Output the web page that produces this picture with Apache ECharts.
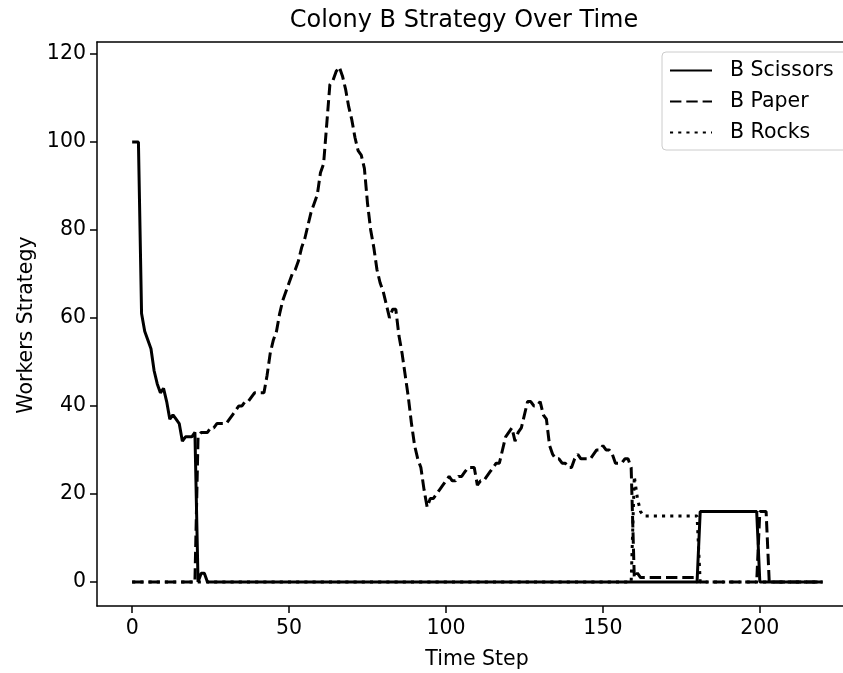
<!DOCTYPE html>
<html>
<head>
<meta charset="utf-8">
<script src="https://cdn.jsdelivr.net/npm/echarts@6/dist/echarts.min.js"></script>
<style>html,body{margin:0;padding:0;background:#fff;}#c{width:843px;height:673px;}</style>
</head>
<body>
<div id="c"></div>
<script>
// Time steps 0..220
const timeSteps = Array.from({length: 221}, (_, i) => i);

const xTicks = [0, 50, 100, 150, 200];
const yTicks = [0, 20, 40, 60, 80, 100, 120];

const scissors = [
  100,100,100,61,57,55,53,48,45,43,
  44,41,37,38,37,36,32,33,33,33,
  34,0,2,2,0,0,0,0,0,0,
  0,0,0,0,0,0,0,0,0,0,
  0,0,0,0,0,0,0,0,0,0,
  0,0,0,0,0,0,0,0,0,0,
  0,0,0,0,0,0,0,0,0,0,
  0,0,0,0,0,0,0,0,0,0,
  0,0,0,0,0,0,0,0,0,0,
  0,0,0,0,0,0,0,0,0,0,
  0,0,0,0,0,0,0,0,0,0,
  0,0,0,0,0,0,0,0,0,0,
  0,0,0,0,0,0,0,0,0,0,
  0,0,0,0,0,0,0,0,0,0,
  0,0,0,0,0,0,0,0,0,0,
  0,0,0,0,0,0,0,0,0,0,
  0,0,0,0,0,0,0,0,0,0,
  0,0,0,0,0,0,0,0,0,0,
  0,16,16,16,16,16,16,16,16,16,
  16,16,16,16,16,16,16,16,16,16,
  0,0,0,0,0,0,0,0,0,0,
  0,0,0,0,0,0,0,0,0,0,
  0
];

const paper = [
  0,0,0,0,0,0,0,0,0,0,
  0,0,0,0,0,0,0,0,0,0,
  0,33,34,34,34,35,35,36,36,36,
  36,37,38,39,40,40,41,41,42,43,
  43,43,43,47,52,55,57,61,64,66,
  68,70,71,73,76,78,81,84,86,88,
  93,95,104,113,114,116,117,115,112,108,
  105,101,98,97,94,86,80,76,71,68,
  66,63,60,62,62,56,52,47,42,36,
  31,28,26,21,17,19,19,20,21,22,
  23,24,23,23,24,24,25,26,26,26,
  22,23,23,24,25,26,27,27,30,33,
  34,35,32,34,35,38,41,41,40,40,
  41,38,37,31,29,28,28,27,27,26,
  26,28,29,28,28,28,28,29,30,30,
  31,30,30,29,27,27,27,28,28,26,
  1,2,1,1,1,1,1,1,1,1,
  1,1,1,1,1,1,1,1,1,1,
  0,0,0,0,0,0,0,0,0,0,
  0,0,0,0,0,0,0,0,0,0,
  16,16,16,0,0,0,0,0,0,0,
  0,0,0,0,0,0,0,0,0,0,
  0
];

const rocks = [
  0,0,0,0,0,0,0,0,0,0,
  0,0,0,0,0,0,0,0,0,0,
  0,0,0,0,0,0,0,0,0,0,
  0,0,0,0,0,0,0,0,0,0,
  0,0,0,0,0,0,0,0,0,0,
  0,0,0,0,0,0,0,0,0,0,
  0,0,0,0,0,0,0,0,0,0,
  0,0,0,0,0,0,0,0,0,0,
  0,0,0,0,0,0,0,0,0,0,
  0,0,0,0,0,0,0,0,0,0,
  0,0,0,0,0,0,0,0,0,0,
  0,0,0,0,0,0,0,0,0,0,
  0,0,0,0,0,0,0,0,0,0,
  0,0,0,0,0,0,0,0,0,0,
  0,0,0,0,0,0,0,0,0,0,
  0,0,0,0,0,0,0,0,0,0,
  24,19,16,15,15,15,15,15,15,15,
  15,15,15,15,15,15,15,15,15,15,
  15,0,0,0,0,0,0,0,0,0,
  0,0,0,0,0,0,0,0,0,0,
  0,0,0,0,0,0,0,0,0,0,
  0,0,0,0,0,0,0,0,0,0,
  0
];

const seriesNames = ['B Scissors', 'B Paper', 'B Rocks'];

const FONT = 'DejaVu Sans';
const LW = 3;
const X_MIN = -11.2, X_MAX = 226.5;

function pairs(vals) { return timeSteps.map((t, i) => [t, vals[i]]); }

const chart = echarts.init(document.getElementById('c'), null, {renderer: 'canvas'});
const spine = {color: '#000', width: 1.5};
const option = {
  animation: false,
  backgroundColor: '#ffffff',
  textStyle: {fontFamily: FONT},
  grid: {left: 97, right: 0, top: 42, bottom: 67},
  xAxis: [{
    type: 'value', min: X_MIN, max: X_MAX,
    splitLine: {show: false},
    axisLine: {show: true, onZero: false, lineStyle: spine},
    axisTick: {show: true, length: 7, customValues: xTicks, lineStyle: spine},
    axisLabel: {customValues: xTicks, color: '#000', fontSize: 20.5, fontFamily: FONT, margin: 12}
  }, {
    type: 'value', position: 'top', min: X_MIN, max: X_MAX,
    splitLine: {show: false},
    axisLine: {show: true, onZero: false, lineStyle: spine},
    axisTick: {show: false}, axisLabel: {show: false}
  }],
  yAxis: {
    type: 'value', min: -5.45, max: 122.7,
    splitLine: {show: false},
    axisLine: {show: true, onZero: false, lineStyle: spine},
    axisTick: {show: true, length: 7, customValues: yTicks, lineStyle: spine},
    axisLabel: {customValues: yTicks, color: '#000', fontSize: 20.5, fontFamily: FONT, margin: 11}
  },
  legend: {
    orient: 'vertical',
    left: 662, top: 52,
    padding: [8, 40, 7, 7],
    itemGap: 10,
    itemWidth: 42, itemHeight: 14,
    itemStyle: {opacity: 0},
    backgroundColor: 'rgba(255,255,255,0.85)',
    borderColor: '#cccccc', borderWidth: 1, borderRadius: 4,
    textStyle: {color: '#000', fontSize: 20.5, fontFamily: FONT, padding: [0, 0, 0, 13], lineHeight: 20},
    data: seriesNames
  },
  graphic: [
    {type: 'text', x: 464, y: 21, style: {text: 'Colony B Strategy Over Time', font: '24px "DejaVu Sans"', fill: '#000', align: 'center', verticalAlign: 'middle', textAlign: 'center', textVerticalAlign: 'middle'}},
    {type: 'text', x: 477, y: 660, style: {text: 'Time Step', font: '20.5px "DejaVu Sans"', fill: '#000', align: 'center', verticalAlign: 'middle', textAlign: 'center', textVerticalAlign: 'middle'}},
    {type: 'text', x: 27, y: 325, rotation: Math.PI / 2, style: {text: 'Workers Strategy', font: '20.5px "DejaVu Sans"', fill: '#000', align: 'center', verticalAlign: 'middle', textAlign: 'center', textVerticalAlign: 'middle'}}
  ],
  series: [
    {name: seriesNames[0], type: 'line', data: pairs(scissors), symbol: 'none', lineStyle: {color: '#000', width: LW, type: 'solid'}, itemStyle: {color: '#000'}, z: 2},
    {name: seriesNames[1], type: 'line', data: pairs(paper), symbol: 'none', lineStyle: {color: '#000', width: LW, type: [11.4, 4.9]}, itemStyle: {color: '#000'}, z: 3},
    {name: seriesNames[2], type: 'line', data: pairs(rocks), symbol: 'none', lineStyle: {color: '#000', width: LW, type: [3.1, 5.1]}, itemStyle: {color: '#000'}, z: 4}
  ]
};
chart.setOption(option);
</script>
</body>
</html>
